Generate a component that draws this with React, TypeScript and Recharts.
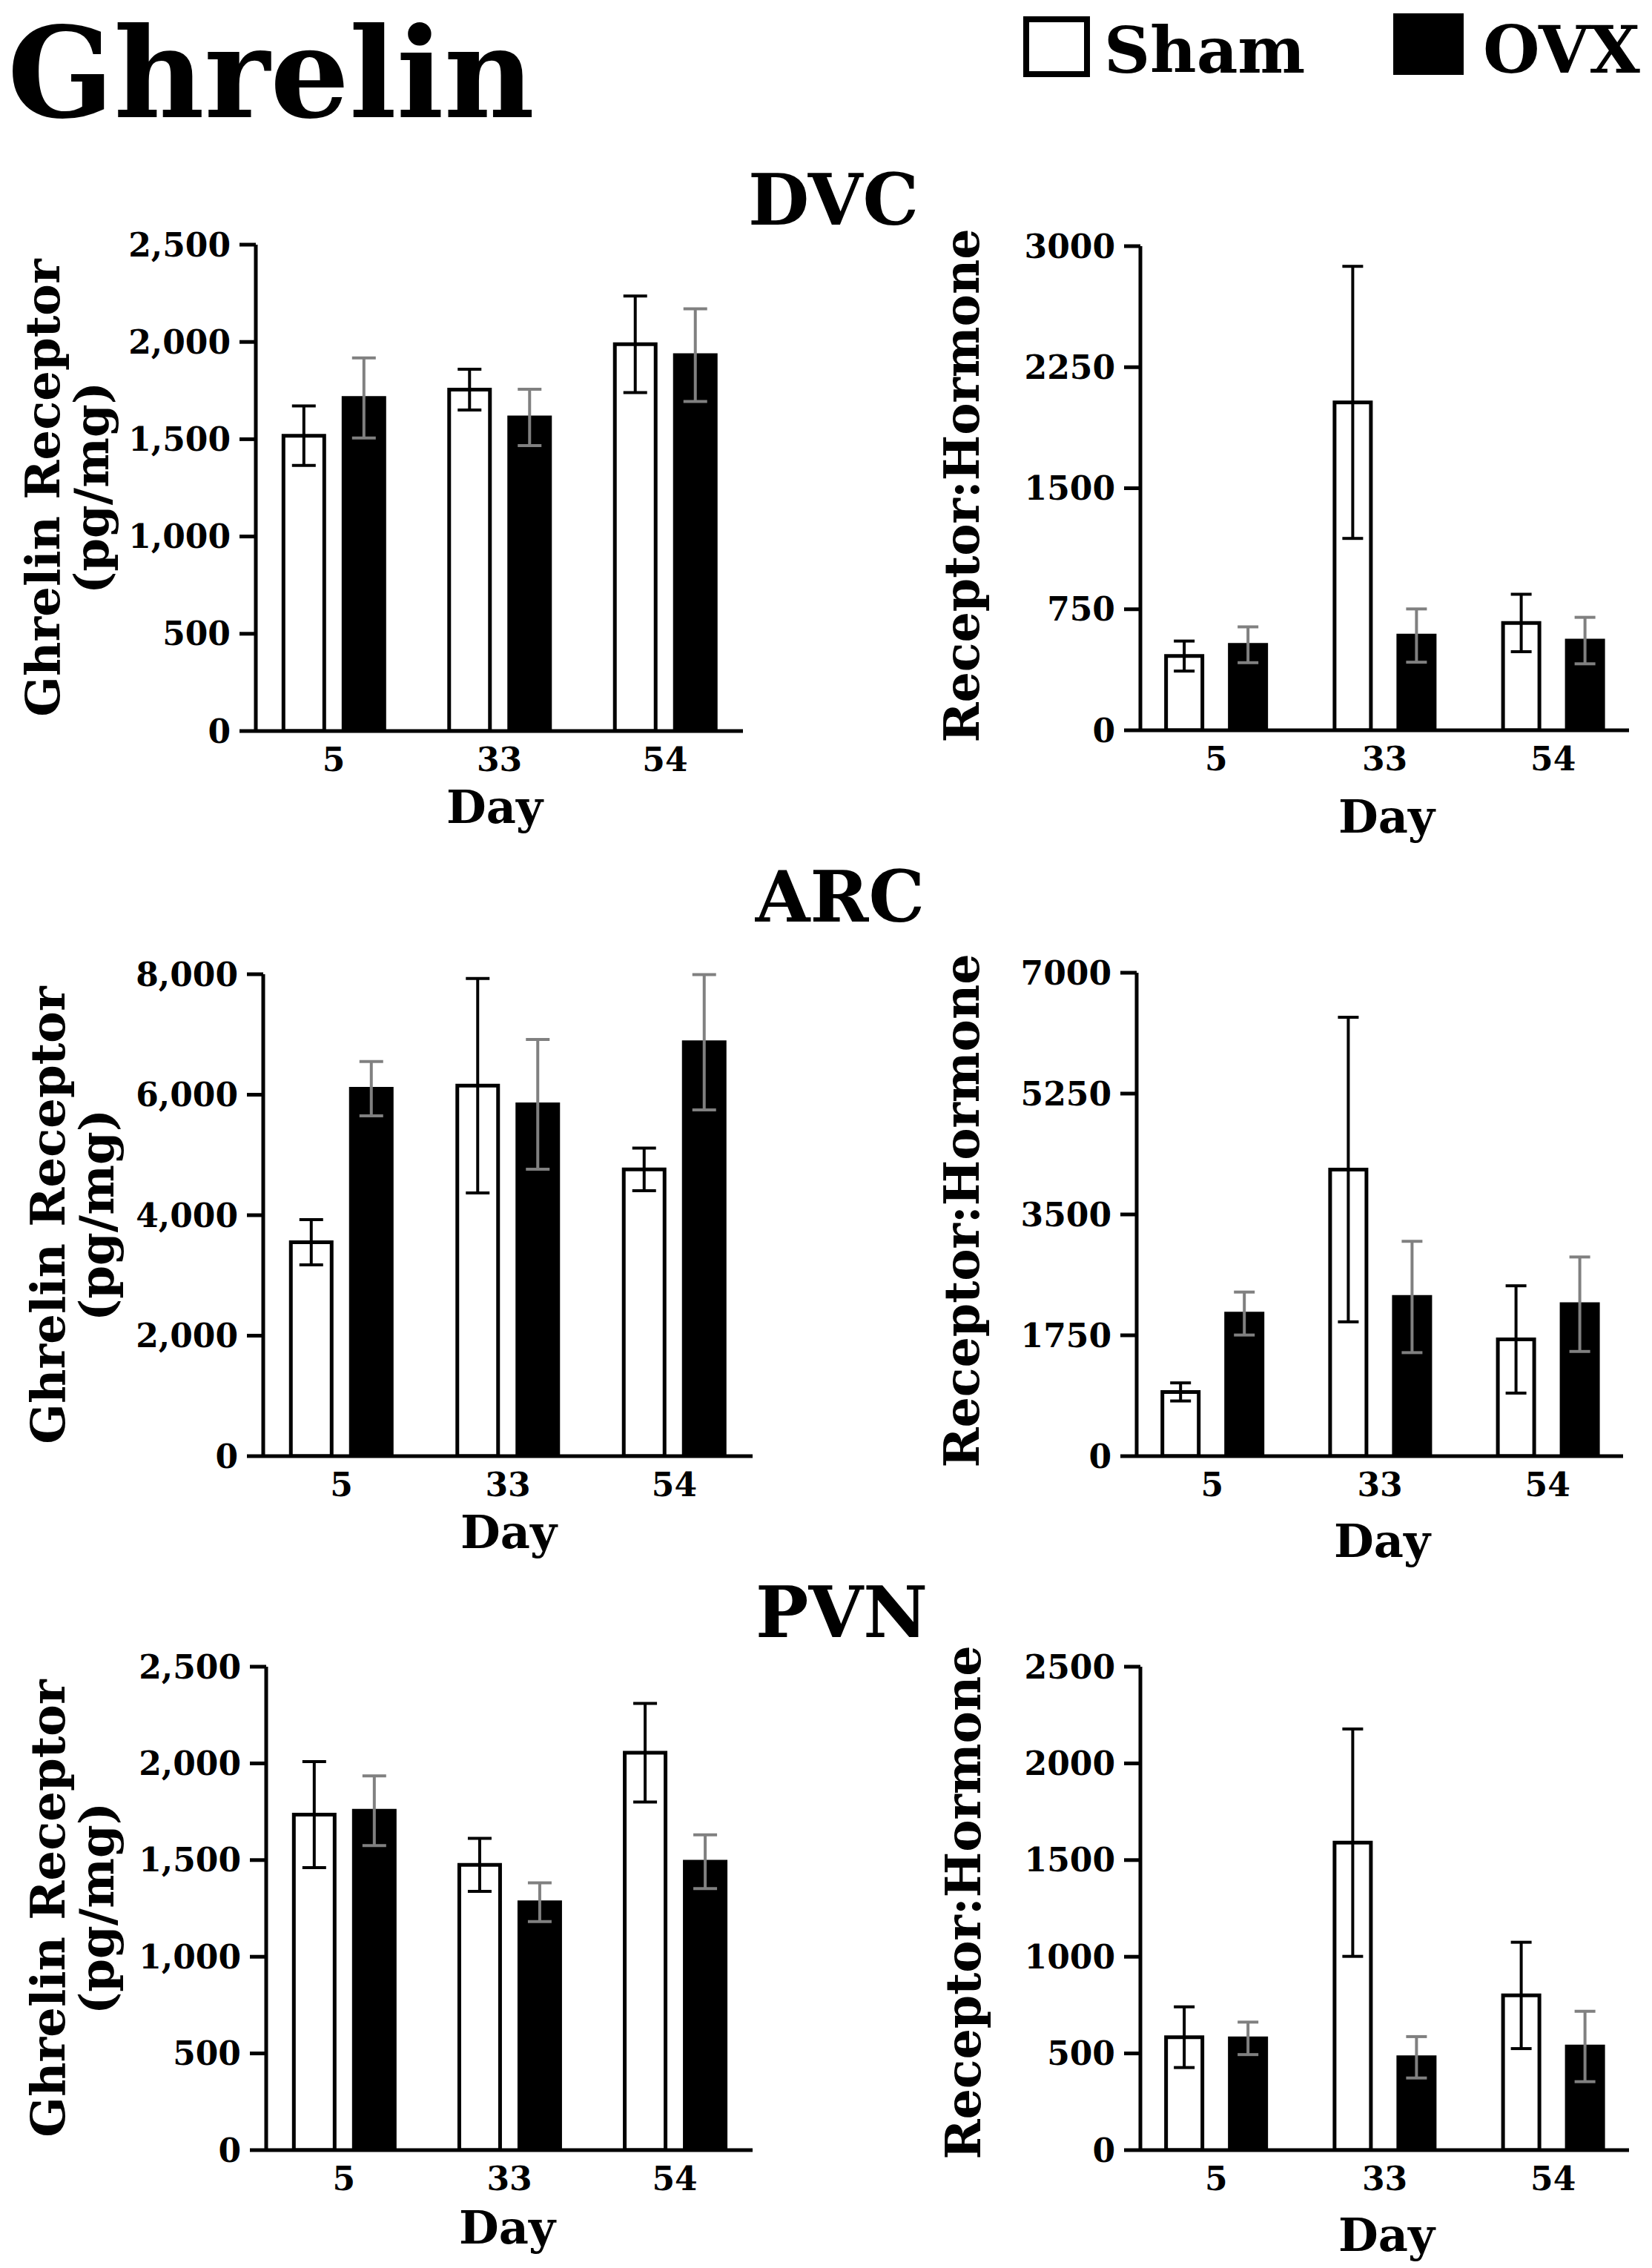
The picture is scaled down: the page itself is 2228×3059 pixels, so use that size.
import React from 'react';
import { BarChart, Bar, XAxis, YAxis, ErrorBar } from 'recharts';

// days of sampling (categories)
const DAYS = ['5', '33', '54'];

// DVC – ghrelin receptor (pg/mg)
const DVC_REC_SHAM = [1518, 1755, 1988];
const DVC_REC_SHAM_ERR = [153, 105, 248];
const DVC_REC_OVX = [1712, 1612, 1932];
const DVC_REC_OVX_ERR = [206, 145, 238];
// DVC – receptor:hormone
const DVC_RATIO_SHAM = [460, 2032, 665];
const DVC_RATIO_SHAM_ERR = [93, 843, 178];
const DVC_RATIO_OVX = [530, 587, 556];
const DVC_RATIO_OVX_ERR = [111, 165, 144];

// ARC
const ARC_REC_SHAM = [3550, 6150, 4760];
const ARC_REC_SHAM_ERR = [375, 1780, 355];
const ARC_REC_OVX = [6100, 5840, 6870];
const ARC_REC_OVX_ERR = [450, 1077, 1123];
const ARC_RATIO_SHAM = [930, 4150, 1690];
const ARC_RATIO_SHAM_ERR = [131, 2205, 777];
const ARC_RATIO_OVX = [2065, 2305, 2200];
const ARC_RATIO_OVX_ERR = [311, 806, 684];

// PVN
const PVN_REC_SHAM = [1735, 1475, 2055];
const PVN_REC_SHAM_ERR = [274, 137, 255];
const PVN_REC_OVX = [1755, 1282, 1492];
const PVN_REC_OVX_ERR = [180, 100, 139];
const PVN_RATIO_SHAM = [584, 1590, 800];
const PVN_RATIO_SHAM_ERR = [157, 588, 275];
const PVN_RATIO_OVX = [578, 480, 536];
const PVN_RATIO_OVX_ERR = [84, 107, 182];

// y ticks
const REC_TICKS_2500 = [0, 500, 1000, 1500, 2000, 2500];
const REC_TICKS_8000 = [0, 2000, 4000, 6000, 8000];
const RATIO_TICKS_3000 = [0, 750, 1500, 2250, 3000];
const RATIO_TICKS_7000 = [0, 1750, 3500, 5250, 7000];
const RATIO_TICKS_2500 = [0, 500, 1000, 1500, 2000, 2500];

const FONT = "'DejaVu Serif', serif";

function rows(sham: number[], shamErr: number[], ovx: number[], ovxErr: number[]) {
  return DAYS.map((day, i) => ({
    pos: i,
    day,
    sham: sham[i],
    shamErr: shamErr[i],
    ovx: ovx[i],
    ovxErr: ovxErr[i],
  }));
}

interface Cfg {
  axis: number;
  right: number;
  top: number;
  bottom: number;
  left: boolean;
}

const LEFT_BAR = { barSize: 55, gap: 26, cap: 16, domain: [-0.47, 2.47] };
const RIGHT_BAR = { barSize: 49, gap: 37, cap: 14, domain: [-0.45, 2.45] };

function Panel({ cfg, data, ticks }: { cfg: Cfg; data: any[]; ticks: number[] }) {
  const YW = 240;
  const MT = 30;
  const MR = 14;
  const XH = 90;
  const b = cfg.left ? LEFT_BAR : RIGHT_BAR;
  const w = YW + (cfg.right - cfg.axis) + MR;
  const h = MT + (cfg.bottom - cfg.top) + XH;
  const fmt = (v: number) => (cfg.left ? v.toLocaleString('en-US') : String(v));
  const tickStyle = { fontSize: 44, fontWeight: 'bold', fill: '#000', fontFamily: FONT };
  return (
    <div style={{ position: 'absolute', left: cfg.axis - YW, top: cfg.top - MT }}>
      <BarChart
        width={w}
        height={h}
        data={data}
        margin={{ top: MT, right: MR, left: 0, bottom: 0 }}
        barGap={b.gap}
      >
        <XAxis
          type="number"
          dataKey="pos"
          domain={b.domain}
          ticks={[0, 1, 2]}
          interval={0}
          allowDataOverflow
          tickFormatter={(v) => DAYS[v]}
          axisLine={{ stroke: '#000', strokeWidth: 5 }}
          tickLine={false}
          tickSize={6}
          tickMargin={17}
          height={XH}
          tick={tickStyle}
        />
        <YAxis
          type="number"
          domain={[0, ticks[ticks.length - 1]]}
          ticks={ticks}
          interval={0}
          allowDataOverflow
          width={YW}
          tickFormatter={fmt}
          axisLine={{ stroke: '#000', strokeWidth: 5 }}
          tickLine={{ stroke: '#000', strokeWidth: 5 }}
          tickSize={22}
          tickMargin={12}
          tick={tickStyle}
        />
        <Bar dataKey="sham" barSize={b.barSize} fill="#fff" stroke="#000" strokeWidth={5} isAnimationActive={false}>
          <ErrorBar dataKey="shamErr" width={b.cap} stroke="#000" strokeWidth={4} direction="y" />
        </Bar>
        <Bar dataKey="ovx" barSize={b.barSize} fill="#000" stroke="#000" strokeWidth={5} isAnimationActive={false}>
          <ErrorBar dataKey="ovxErr" width={b.cap} stroke="#808080" strokeWidth={4} direction="y" />
        </Bar>
      </BarChart>
    </div>
  );
}

const PANELS = [
  { cfg: { axis: 345, right: 1002, top: 330, bottom: 986, left: true }, data: rows(DVC_REC_SHAM, DVC_REC_SHAM_ERR, DVC_REC_OVX, DVC_REC_OVX_ERR), ticks: REC_TICKS_2500 },
  { cfg: { axis: 1538, right: 2197, top: 332, bottom: 985, left: false }, data: rows(DVC_RATIO_SHAM, DVC_RATIO_SHAM_ERR, DVC_RATIO_OVX, DVC_RATIO_OVX_ERR), ticks: RATIO_TICKS_3000 },
  { cfg: { axis: 355, right: 1015, top: 1314, bottom: 1964, left: true }, data: rows(ARC_REC_SHAM, ARC_REC_SHAM_ERR, ARC_REC_OVX, ARC_REC_OVX_ERR), ticks: REC_TICKS_8000 },
  { cfg: { axis: 1533, right: 2189, top: 1312, bottom: 1964, left: false }, data: rows(ARC_RATIO_SHAM, ARC_RATIO_SHAM_ERR, ARC_RATIO_OVX, ARC_RATIO_OVX_ERR), ticks: RATIO_TICKS_7000 },
  { cfg: { axis: 359, right: 1015, top: 2248, bottom: 2900, left: true }, data: rows(PVN_REC_SHAM, PVN_REC_SHAM_ERR, PVN_REC_OVX, PVN_REC_OVX_ERR), ticks: REC_TICKS_2500 },
  { cfg: { axis: 1538, right: 2197, top: 2248, bottom: 2900, left: false }, data: rows(PVN_RATIO_SHAM, PVN_RATIO_SHAM_ERR, PVN_RATIO_OVX, PVN_RATIO_OVX_ERR), ticks: RATIO_TICKS_2500 },
];

const REGIONS = [
  { name: 'DVC', x: 1124, y: 303 },
  { name: 'ARC', x: 1133, y: 1243 },
  { name: 'PVN', x: 1135, y: 2208 },
];

const DAY_LABELS = [
  { x: 667, y: 1110 },
  { x: 1870, y: 1123 },
  { x: 686, y: 2088 },
  { x: 1864, y: 2100 },
  { x: 684, y: 3026 },
  { x: 1870, y: 3036 },
];

const LEFT_YLABELS = [
  { x: 80, cy: 658 },
  { x: 87, cy: 1639 },
  { x: 87, cy: 2574 },
];
const RIGHT_YLABELS = [
  { x: 1320, cy: 655 },
  { x: 1320, cy: 1633 },
  { x: 1322, cy: 2566 },
];

export default function App() {
  const txt = { fontFamily: FONT, fontWeight: 'bold' as const, fill: '#000' };
  return (
    <div style={{ position: 'absolute', left: 0, top: 0, width: 2228, height: 3059, background: '#fff', overflow: 'hidden' }}>
      {PANELS.map((p, i) => (
        <Panel key={i} cfg={p.cfg} data={p.data} ticks={p.ticks} />
      ))}
      <svg width={2228} height={3059} style={{ position: 'absolute', left: 0, top: 0, pointerEvents: 'none' }}>
        <text x={10} y={158} fontSize={168} {...txt}>Ghrelin</text>
        <rect x={1384} y={26} width={82} height={74} fill="#fff" stroke="#000" strokeWidth={8} />
        <text x={1489} y={98} fontSize={86} {...txt}>Sham</text>
        <rect x={1879} y={18} width={95} height={83} fill="#000" />
        <text x={2000} y={98} fontSize={88} {...txt}>OVX</text>
        {REGIONS.map((r) => (
          <text key={r.name} x={r.x} y={r.y} fontSize={95} textAnchor="middle" {...txt}>{r.name}</text>
        ))}
        {DAY_LABELS.map((d, i) => (
          <text key={i} x={d.x} y={d.y} fontSize={62} textAnchor="middle" {...txt}>Day</text>
        ))}
        {LEFT_YLABELS.map((l, i) => (
          <g key={i}>
            <text transform={`translate(${l.x},${l.cy}) rotate(-90)`} fontSize={64} textAnchor="middle" {...txt}>Ghrelin Receptor</text>
            <text transform={`translate(${l.x + 66},${l.cy}) rotate(-90)`} fontSize={64} textAnchor="middle" {...txt}>(pg/mg)</text>
          </g>
        ))}
        {RIGHT_YLABELS.map((l, i) => (
          <text key={i} transform={`translate(${l.x},${l.cy}) rotate(-90)`} fontSize={65} textAnchor="middle" {...txt}>Receptor:Hormone</text>
        ))}
      </svg>
    </div>
  );
}
